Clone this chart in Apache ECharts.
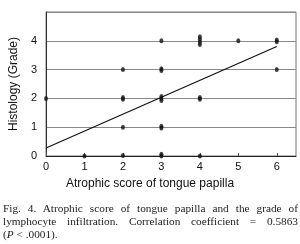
<!DOCTYPE html>
<html>
<head>
<meta charset="utf-8">
<script src="https://cdn.jsdelivr.net/npm/echarts@6/dist/echarts.min.js"></script>
<style>
  html, body { margin: 0; padding: 0; background: #fff; }
  #wrap { position: relative; width: 300px; height: 244px; }
  #chart { position: absolute; left: 0; top: 0; width: 300px; height: 244px; }
  #caption {
    position: absolute; left: 3px; top: 202px; width: 295px;
    font-family: "Liberation Serif", "DejaVu Serif", serif;
    font-size: 11.3px; line-height: 13px; color: #222;
    text-align: justify;
  }
</style>
</head>
<body>
<div id="wrap">
  <div id="chart"></div>
  <div id="caption">Fig. 4. Atrophic score of tongue papilla and the grade of lymphocyte infiltration. Correlation coefficient = 0.5863 (<i>P</i>&nbsp;&lt;&nbsp;.0001).</div>
</div>
<script>
  // x = atrophic score, y = histology grade (stacked dots keep a tiny offset as in the figure)
  const scoreValues = [1, 2, 2, 3, 3, 3, 4,
                       2, 3, 3,
                       0, 2, 2, 3, 3, 3, 4, 4,
                       2, 3, 3, 6,
                       3, 4, 4, 4, 4, 5, 6, 6];
  const gradeValues = [0, -0.02, 0.02, -0.06, 0, 0.06, 0,
                       1, 0.97, 1.03,
                       2, 1.97, 2.03, 1.93, 2, 2.07, 1.97, 2.03,
                       3, 2.97, 3.03, 3,
                       4, 3.87, 3.96, 4.05, 4.14, 4, 3.97, 4.03];
  // regression line end points
  const fitX = [0, 6];
  const fitY = [0.28, 3.8];
  const xTicks = [0, 1, 2, 3, 4, 5, 6];
  const yTicks = [0, 1, 2, 3, 4];

  const chart = echarts.init(document.getElementById('chart'));
  const font = '"Liberation Sans", Arial, sans-serif';

  chart.setOption({
    animation: false,
    grid: {
      left: 45, right: 4, top: 12, bottom: 88,
      show: true, borderColor: '#777', borderWidth: 1
    },
    xAxis: {
      type: 'value',
      min: 0, max: 6.5, interval: 1,
      axisLine: { lineStyle: { color: '#222', width: 1 } },
      axisTick: { inside: true, length: 3, customValues: xTicks, lineStyle: { color: '#555' } },
      axisLabel: { customValues: xTicks, margin: 5, fontFamily: font, fontSize: 11, color: '#111' },
      splitLine: { show: false }
    },
    yAxis: {
      type: 'value',
      min: 0, max: 5, interval: 1,
      name: 'Histology (Grade)',
      nameLocation: 'middle',
      nameGap: 16,
      nameTextStyle: { fontFamily: font, fontSize: 12, color: '#111' },
      axisLine: { show: true, lineStyle: { color: '#333', width: 1 } },
      axisTick: { show: false },
      axisLabel: { customValues: yTicks, margin: 9, fontFamily: font, fontSize: 11, color: '#111' },
      splitLine: { lineStyle: { color: '#888', width: 1 } }
    },
    graphic: [{
      type: 'text', left: 'center', top: 178,
      style: { text: 'Atrophic score of tongue papilla', font: '12px ' + font, fill: '#111' }
    }],
    series: [
      {
        type: 'scatter',
        data: scoreValues.map((x, i) => [x, gradeValues[i]]),
        symbol: 'circle',
        symbolSize: [4, 5],
        itemStyle: { color: '#111' },
        z: 3
      },
      {
        type: 'line',
        data: fitX.map((x, i) => [x, fitY[i]]),
        showSymbol: false,
        lineStyle: { color: '#111', width: 1.2 },
        z: 2
      }
    ]
  });
</script>
</body>
</html>
